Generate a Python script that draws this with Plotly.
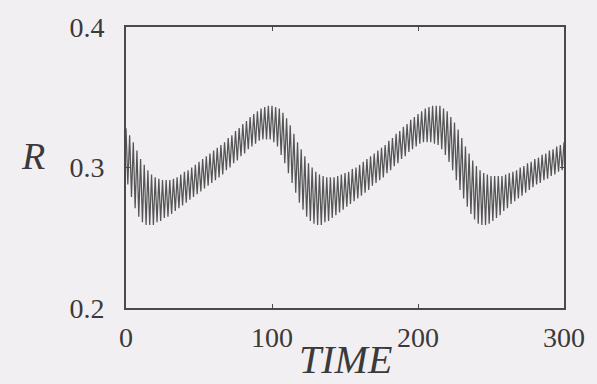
import numpy as np
import plotly.graph_objects as go

# Time span of the record and the oscillation extrema of R.
T_START, T_END = 0.0, 300.0

# Successive maxima of R (one per fast cycle), from t = 0 to t = 300.
r_max = [
    0.328, 0.323, 0.318, 0.312, 0.306, 0.302, 0.298, 0.295, 0.293, 0.292,
    0.291, 0.291, 0.291, 0.292, 0.293, 0.295, 0.297, 0.298, 0.300, 0.302,
    0.304, 0.306, 0.308, 0.310, 0.312, 0.314, 0.316, 0.318, 0.321, 0.323,
    0.326, 0.328, 0.331, 0.333, 0.336, 0.338, 0.340, 0.342, 0.343, 0.344,
    0.344, 0.343, 0.342, 0.339, 0.335, 0.330, 0.324, 0.318, 0.313, 0.308,
    0.303, 0.300, 0.297, 0.295, 0.294, 0.293, 0.293, 0.293, 0.294, 0.295,
    0.296, 0.297, 0.299, 0.300, 0.302, 0.304, 0.306, 0.308, 0.310, 0.312,
    0.314, 0.316, 0.319, 0.321, 0.324, 0.326, 0.329, 0.331, 0.334, 0.336,
    0.338, 0.340, 0.342, 0.343, 0.344, 0.344, 0.344, 0.342, 0.340, 0.336,
    0.332, 0.327, 0.321, 0.315, 0.310, 0.305, 0.301, 0.298, 0.296, 0.295,
    0.294, 0.294, 0.294, 0.294, 0.295, 0.296, 0.297, 0.298, 0.300, 0.301,
    0.303, 0.304, 0.306, 0.307, 0.309, 0.310, 0.312, 0.313, 0.315, 0.316,
    0.318,
]

# Successive minima of R, each lying half a cycle after the preceding maximum.
r_min = [
    0.288, 0.279, 0.271, 0.265, 0.261, 0.259, 0.259, 0.259, 0.261, 0.262,
    0.264, 0.265, 0.267, 0.269, 0.271, 0.273, 0.275, 0.277, 0.279, 0.281,
    0.283, 0.285, 0.287, 0.289, 0.291, 0.293, 0.295, 0.298, 0.300, 0.303,
    0.305, 0.308, 0.310, 0.313, 0.315, 0.317, 0.319, 0.320, 0.320, 0.320,
    0.318, 0.315, 0.309, 0.303, 0.296, 0.289, 0.282, 0.275, 0.270, 0.265,
    0.262, 0.260, 0.259, 0.259, 0.261, 0.262, 0.264, 0.266, 0.268, 0.270,
    0.272, 0.274, 0.276, 0.278, 0.280, 0.282, 0.284, 0.287, 0.289, 0.291,
    0.293, 0.296, 0.298, 0.301, 0.303, 0.306, 0.308, 0.311, 0.313, 0.315,
    0.317, 0.318, 0.318, 0.318, 0.317, 0.316, 0.313, 0.309, 0.304, 0.298,
    0.291, 0.284, 0.278, 0.272, 0.267, 0.263, 0.260, 0.259, 0.259, 0.260,
    0.262, 0.264, 0.266, 0.269, 0.271, 0.274, 0.276, 0.278, 0.280, 0.282,
    0.284, 0.286, 0.288, 0.289, 0.291, 0.292, 0.294, 0.295, 0.297, 0.298,
]

x_ticks = [0, 100, 200, 300]
x_ticklabels = ["0", "100", "200", "300"]
y_ticks = [0.2, 0.3, 0.4]
y_ticklabels = ["0.2", "0.3", "0.4"]

assert len(r_max) == len(r_min) + 1

# Interleave maxima and minima into a single time series.
r_series = []
for i, hi in enumerate(r_max):
    r_series.append(hi)
    if i < len(r_min):
        r_series.append(r_min[i])
t_series = np.linspace(T_START, T_END, len(r_series))

BG = "#f2eff3"
INK = "#3a3a3a"
FONT = "Liberation Serif"

fig = go.Figure()
fig.add_trace(go.Scatter(
    x=t_series, y=r_series, mode="lines",
    line=dict(color="#555555", width=1.25),
    hoverinfo="skip", showlegend=False,
))

axis_common = dict(
    showline=True, linecolor="#4a4a4a", linewidth=1.6, mirror="ticks",
    ticks="inside", ticklen=4, tickwidth=1.2, tickcolor="#4a4a4a",
    showgrid=False, zeroline=False,
    tickfont=dict(family=FONT, size=28, color=INK),
)

fig.update_layout(
    width=597, height=384,
    margin=dict(l=126, r=26, t=25, b=76),
    paper_bgcolor=BG, plot_bgcolor=BG,
    xaxis=dict(range=[T_START, T_END], tickvals=x_ticks, ticktext=x_ticklabels,
               ticklabelstandoff=4, **axis_common),
    yaxis=dict(range=[0.2, 0.4], tickvals=y_ticks, ticktext=y_ticklabels,
               ticklabelstandoff=14, **axis_common),
    annotations=[
        dict(text="<i>R</i>", xref="paper", yref="paper", x=-0.213, y=0.54,
             showarrow=False, xanchor="center", yanchor="middle",
             font=dict(family=FONT, size=38, color=INK)),
        dict(text="<i>TIME</i>", xref="paper", yref="paper", x=0.5, y=-0.185,
             showarrow=False, xanchor="center", yanchor="middle",
             font=dict(family=FONT, size=40, color=INK)),
    ],
)

fig.write_html("out.html")
